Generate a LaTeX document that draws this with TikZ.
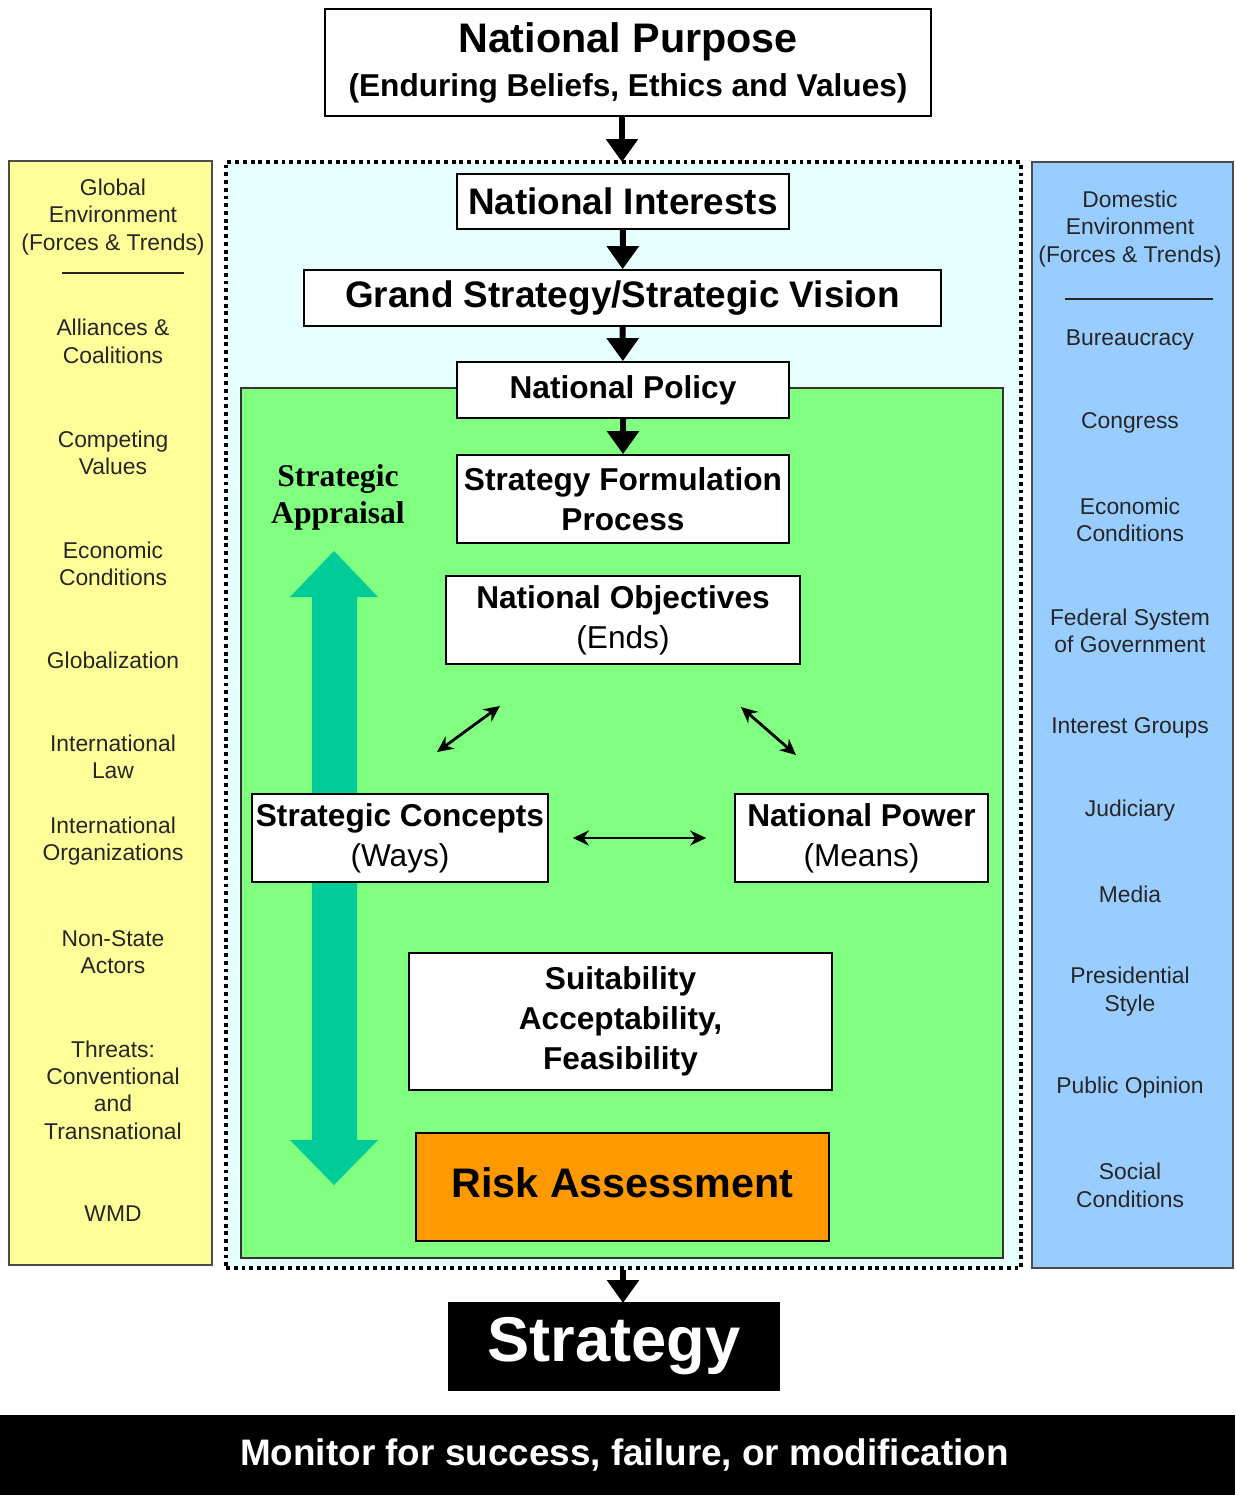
\documentclass[tikz,border=0pt]{standalone}
\usepackage{fontspec}
\setmainfont{Liberation Sans}
\newfontfamily\apprfont{Liberation Serif}
\usepackage{tikz}
\usetikzlibrary{arrows.meta}
\usetikzlibrary{positioning}
\definecolor{GlobalColor}{RGB}{255,255,153}
\definecolor{DomesticColor}{RGB}{153,204,255}
\definecolor{EnvColor}{RGB}{230,255,255}
\definecolor{CoreColor}{RGB}{128,255,128}
\definecolor{RiskColor}{RGB}{255,153,0}
\definecolor{AppraisalColor}{RGB}{0,204,153}

\begin{document}
\begin{tikzpicture}[x=0.02cm, y=-0.02cm,
        box/.style={draw, line width=1pt, fill=white, inner sep=0pt, align=center, font=\bfseries\fontsize{18}{22.7}\selectfont},
        region/.style={draw=#1, inner sep=0pt, line width=0.8pt},
        sidetext/.style={align=center, text=black!85, font=\fontsize{13}{15.6}\selectfont},
        flow/.style={line width=3.4pt, -{Triangle[width=0.62cm,length=0.46cm]}},
        link/.style={line width=1.6pt, {Stealth[length=0.32cm,width=0.3cm]}-{Stealth[length=0.32cm,width=0.3cm]}}
    ]
        \useasboundingbox (0,0) rectangle (1235,1495);

        % environments
        \node[region=black!70, fill=GlobalColor, minimum width=4.06cm, minimum height=22.08cm] (global) at (110.5,713) {};
        \node[region=black!70, fill=DomesticColor, minimum width=4.02cm, minimum height=22.12cm] (domestic) at (1132.5,715) {};
        \node[draw, fill=EnvColor, inner sep=0pt, line width=2.2pt, dash pattern=on 2.2pt off 2.2pt, minimum width=15.9cm, minimum height=22.12cm] (env) at (623.5,715) {};
        \node[region=black!80, fill=CoreColor, minimum width=15.24cm, minimum height=17.4cm] (core) at (622,823) {};

        % side lists
        \foreach \y/\txt in {217/{Global\\Environment\\(Forces \& Trends)}, 341.5/{Alliances \&\\Coalitions}, 453/{Competing\\Values}, 564/{Economic\\Conditions}, 660/{Globalization}, 757/{International\\Law}, 841/{International\\Organizations}, 952/{Non-State\\Actors}, 1090/{Threats:\\Conventional\\and\\Transnational}, 1214/{WMD}}
            \node[sidetext] at (113,\y) {\txt};
        \foreach \y/\txt in {229/{Domestic\\Environment\\(Forces \& Trends)}, 340/{Bureaucracy}, 423/{Congress}, 520/{Economic\\Conditions}, 631/{Federal System\\of Government}, 728/{Interest Groups}, 811/{Judiciary}, 894/{Media}, 991.5/{Presidential\\Style}, 1088/{Public Opinion}, 1185.5/{Social\\Conditions}}
            \node[sidetext] at (1130,\y) {\txt};
        \draw[line width=1pt, black!85] (62,273) -- (184,273);
        \draw[line width=1pt, black!85] (1065,299) -- (1213,299);

        % appraisal arrow
        \fill[AppraisalColor] (334,551) -- (378,597) -- (357,597) -- (357,1140) -- (378,1140) -- (334,1185)
            -- (290,1140) -- (312,1140) -- (312,597) -- (290,597) -- cycle;
        \node[align=center, font=\apprfont\bfseries\fontsize{18}{21}\selectfont] (appraisal) at (338,497) {Strategic\\Appraisal};

        % main chain
        \node[box, minimum width=12.12cm, minimum height=2.14cm, font=\bfseries\fontsize{18}{25}\selectfont] (purpose) at (628,62.5)
            {{\fontsize{23.5}{25}\selectfont National Purpose}\\(Enduring Beliefs, Ethics and Values)};
        \node[box, minimum width=6.64cm, minimum height=1.1cm, font=\bfseries\fontsize{21}{24}\selectfont] (interests) at (623,201.5) {National Interests};
        \node[box, minimum width=12.74cm, minimum height=1.12cm, font=\bfseries\fontsize{21}{24}\selectfont] (grand) at (622.5,298) {Grand Strategy/Strategic Vision};
        \node[box, minimum width=6.64cm, minimum height=1.12cm] (policy) at (623,390) {National Policy};
        \node[box, minimum width=6.64cm, minimum height=1.76cm] (formulation) at (623,499) {Strategy Formulation\\Process};
        \node[box, minimum width=7.08cm, minimum height=1.76cm] (objectives) at (623,620) {National Objectives\\\mdseries (Ends)};
        \node[box, minimum width=5.92cm, minimum height=1.76cm] (concepts) at (400,838) {Strategic Concepts\\\mdseries (Ways)};
        \node[box, minimum width=5.06cm, minimum height=1.76cm] (power) at (861.5,838) {National Power\\\mdseries (Means)};
        \node[box, minimum width=8.46cm, minimum height=2.74cm] (criteria) at (620.5,1021.5) {Suitability\\Acceptability,\\Feasibility};
        \node[box, fill=RiskColor, minimum width=8.26cm, minimum height=2.16cm, font=\bfseries\fontsize{23.5}{26}\selectfont] (risk) at (622.5,1187) {\raisebox{0.18cm}{Risk Assessment}};
        \node[box, fill=black, text=white, minimum width=6.6cm, minimum height=1.74cm, font=\bfseries\fontsize{36}{40}\selectfont] (strategy) at (614,1346.5) {Strategy};
        \node[fill=black, text=white, inner sep=0pt, minimum width=24.7cm, minimum height=1.6cm, font=\bfseries\fontsize{21}{24}\selectfont] (monitor) at (617.5,1455) {\hspace{0.28cm}Monitor for success, failure, or modification};

        \draw[flow] (purpose.south -| 622,0) -- (622,162);
        \draw[flow] (interests) -- (grand);
        \draw[flow] (grand) -- (policy);
        \draw[flow] (policy) -- (formulation);
        \draw[flow] (env.south -| 623,0) -- (623,1303);

        % ends, ways and means
        \coordinate (ends-l) at (500,706);
        \coordinate (ways-t) at (437,752);
        \coordinate (ends-r) at (741,707);
        \coordinate (means-t) at (796,755);
        \draw[link] (ways-t) -- (ends-l);
        \draw[link] (ends-r) -- (means-t);
        \draw[link, shorten <=0.48cm, shorten >=0.56cm] (concepts) -- (power);

    \end{tikzpicture}
\end{document}
